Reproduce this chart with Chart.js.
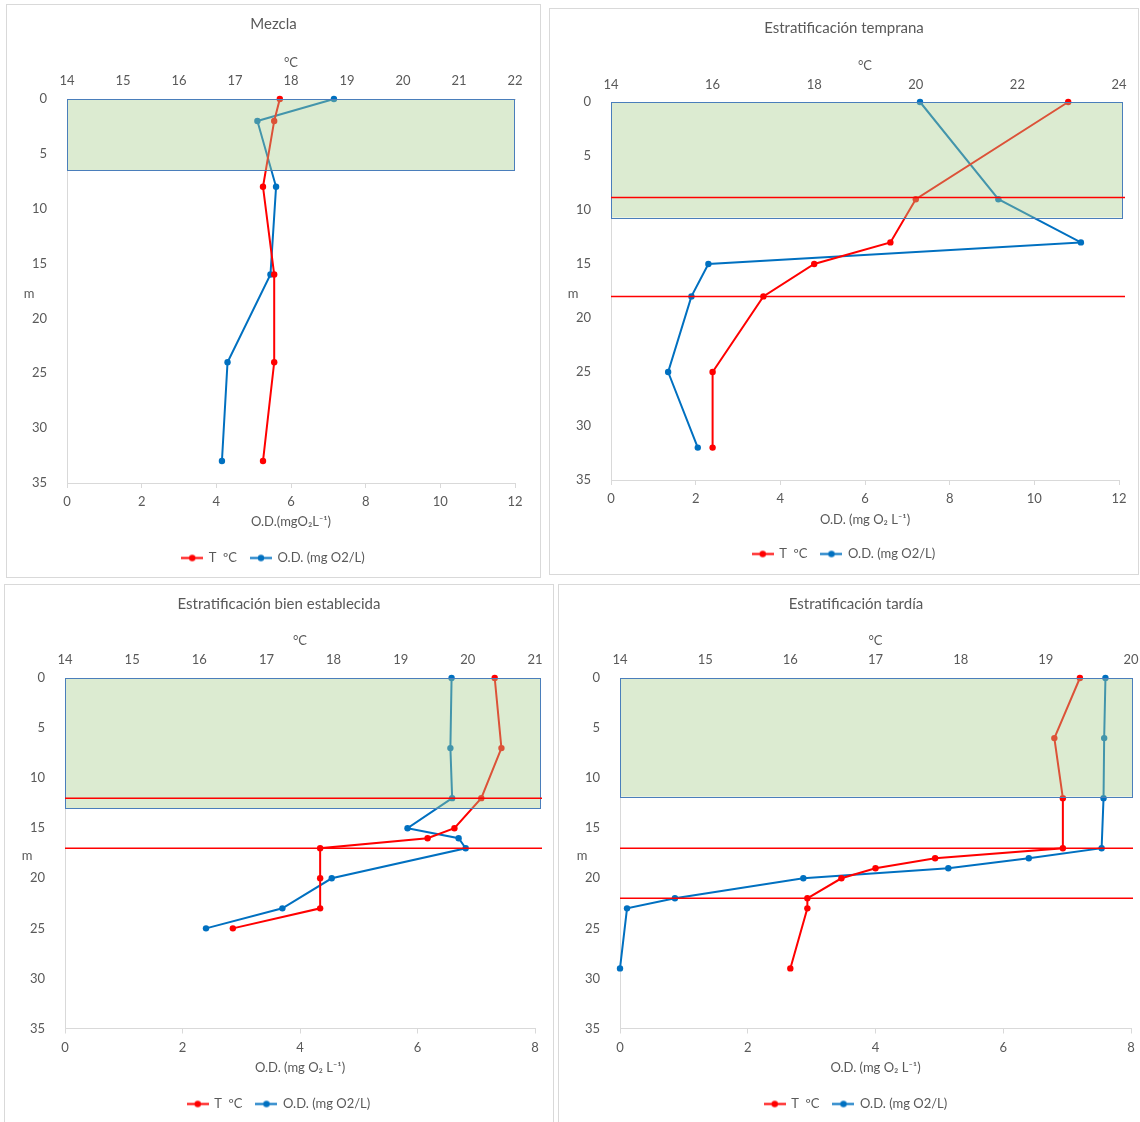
<!DOCTYPE html>
<html>
<head>
<meta charset="utf-8">
<title>Perfiles de temperatura y oxígeno disuelto</title>
<script src="https://cdn.jsdelivr.net/npm/chart.js@4.4.1/dist/chart.umd.min.js"></script>
<style>
  html, body { margin: 0; padding: 0; background: #fff; }
  body { position: relative; width: 1140px; height: 1122px; overflow: hidden; }
  .panel { position: absolute; box-sizing: border-box; border: 1px solid #d9d9d9; background: #fff; }
  .panel canvas { display: block; }
</style>
</head>
<body>
<div class="panel" style="left:6px;top:4px;width:535px;height:574px"><canvas id="c1" width="533" height="572"></canvas></div>
<div class="panel" style="left:549px;top:8px;width:590px;height:567px"><canvas id="c2" width="588" height="565"></canvas></div>
<div class="panel" style="left:4px;top:584px;width:550px;height:545px"><canvas id="c3" width="548" height="543"></canvas></div>
<div class="panel" style="left:558px;top:584px;width:596px;height:545px"><canvas id="c4" width="594" height="543"></canvas></div>

<script>
// ---- Perfil: Mezcla ----
const depthMezcla = [0, 2, 8, 16, 24, 33];
const tempMezcla  = [17.8, 17.7, 17.5, 17.7, 17.7, 17.5];
const odMezcla    = [7.15, 5.1, 5.6, 5.45, 4.3, 4.15];
const mixedMezcla = 6.5;            // fondo de la capa de mezcla (m)
const limitsMezcla = [];            // límites de la termoclina (m)
const tempTicksMezcla = [14, 15, 16, 17, 18, 19, 20, 21, 22];
const odTicksMezcla   = [0, 2, 4, 6, 8, 10, 12];

// ---- Perfil: Estratificación temprana ----
const depthTemprana = [0, 9, 13, 15, 18, 25, 32];
const tempTemprana  = [23.0, 20.0, 19.5, 18.0, 17.0, 16.0, 16.0];
const odTemprana    = [7.3, 9.15, 11.1, 2.3, 1.9, 1.35, 2.05];
const mixedTemprana = 10.7;
const limitsTemprana = [8.85, 18];
const tempTicksTemprana = [14, 16, 18, 20, 22, 24];
const odTicksTemprana   = [0, 2, 4, 6, 8, 10, 12];

// ---- Perfil: Estratificación bien establecida ----
const depthEstablecida = [0, 7, 12, 15, 16, 17, 20, 23, 25];
const tempEstablecida  = [20.4, 20.5, 20.2, 19.8, 19.4, 17.8, 17.8, 17.8, 16.5];
const odEstablecida    = [6.58, 6.56, 6.59, 5.83, 6.7, 6.82, 4.54, 3.7, 2.4];
const mixedEstablecida = 13;
const limitsEstablecida = [12, 17];
const tempTicksEstablecida = [14, 15, 16, 17, 18, 19, 20, 21];
const odTicksEstablecida   = [0, 2, 4, 6, 8];

// ---- Perfil: Estratificación tardía ----
const depthTardia = [0, 6, 12, 17, 18, 19, 20, 22, 23, 29];
const tempTardia  = [19.4, 19.1, 19.2, 19.2, 17.7, 17.0, 16.6, 16.2, 16.2, 16.0];
const odTardia    = [7.6, 7.58, 7.57, 7.54, 6.4, 5.14, 2.87, 0.86, 0.11, 0.0];
const mixedTardia = 11.85;
const limitsTardia = [17, 22];
const tempTicksTardia = [14, 15, 16, 17, 18, 19, 20];
const odTicksTardia   = [0, 2, 4, 6, 8];

const depthTicks = [0, 5, 10, 15, 20, 25, 30, 35];

const seriesNames = ['T  ºC', 'O.D. (mg O2/L)'];

// ---- estilos ----
const TEXT = '#595959';
const AXIS = '#d9d9d9';
const RED = '#ff0000';
const BLUE = '#0070c0';
const FONT = 'Lato, Carlito, Calibri, "Open Sans", sans-serif';
Chart.defaults.font.family = FONT;
Chart.defaults.color = TEXT;

function legendSymbol(color) {
  const c = document.createElement('canvas');
  c.width = 22; c.height = 9;
  const g = c.getContext('2d');
  g.strokeStyle = color; g.lineWidth = 2;
  g.beginPath(); g.moveTo(0, 4.5); g.lineTo(22, 4.5); g.stroke();
  g.fillStyle = color;
  g.beginPath(); g.arc(11, 4.5, 3.2, 0, Math.PI * 2); g.fill();
  return c;
}
const symbols = [legendSymbol(RED), legendSymbol(BLUE)];

// capa de mezcla sombreada, límites de la termoclina y rótulo del eje de profundidad
const layerPlugin = {
  id: 'layers',
  afterDatasetsDraw(chart, args, opts) {
    const {ctx} = chart;
    const xs = chart.scales.x, ys = chart.scales.y;
    const left = xs.getPixelForValue(xs.min);
    const right = xs.getPixelForValue(xs.max);
    const top = ys.getPixelForValue(0);
    const bottom = ys.getPixelForValue(opts.mixed);
    ctx.save();
    ctx.fillStyle = 'rgba(168, 204, 140, 0.40)';
    ctx.fillRect(left, top, right + opts.boxOverhang - left, bottom - top);
    ctx.strokeStyle = '#4a7ebb';
    ctx.lineWidth = 1;
    ctx.strokeRect(Math.round(left) + 0.5, Math.round(top) + 0.5,
                   Math.round(right + opts.boxOverhang - left) - 1, Math.round(bottom - top));
    ctx.strokeStyle = RED;
    ctx.lineWidth = 1.5;
    for (const d of opts.limits) {
      const py = ys.getPixelForValue(d);
      ctx.beginPath();
      ctx.moveTo(left, py);
      ctx.lineTo(right + opts.lineOverhang, py);
      ctx.stroke();
    }
    ctx.restore();
  },
  afterDraw(chart) {
    const {ctx, chartArea} = chart;
    ctx.save();
    ctx.fillStyle = TEXT;
    ctx.font = '13px ' + FONT;
    ctx.textAlign = 'center';
    ctx.textBaseline = 'middle';
    ctx.fillText('m', chartArea.left - 38, (chartArea.top + chartArea.bottom) / 2 + 3);
    ctx.restore();
  }
};

function makeChart(p) {
  const f = p.frame;
  const titleBox = f.titleY + 9;
  const x2Height = f.plotTop - titleBox;
  const legendPad = 14;
  const xHeight = f.legendY - f.plotBottom - legendPad - 6.5;
  const padBottom = f.h - f.plotBottom - xHeight - (legendPad + 23);

  const points = (xs) => p.depth.map((d, i) => ({x: xs[i], y: d}));

  return new Chart(document.getElementById(p.id), {
    type: 'scatter',
    data: {
      datasets: [
        {label: seriesNames[0], data: points(p.temp), xAxisID: 'x2', yAxisID: 'y',
         showLine: true, borderColor: RED, backgroundColor: RED, borderWidth: 2,
         pointRadius: 3.2, pointHoverRadius: 3.2, pointBorderWidth: 0, clip: false},
        {label: seriesNames[1], data: points(p.od), xAxisID: 'x', yAxisID: 'y',
         showLine: true, borderColor: BLUE, backgroundColor: BLUE, borderWidth: 2,
         pointRadius: 3.2, pointHoverRadius: 3.2, pointBorderWidth: 0, clip: false}
      ]
    },
    options: {
      responsive: false,
      animation: false,
      events: [],
      layout: {padding: {left: 0, right: 0, top: 0, bottom: padBottom}},
      plugins: {
        title: {display: true, text: p.title, color: TEXT,
                font: {size: 15, weight: 'normal', lineHeight: 1.2},
                padding: {top: f.titleY - 8, bottom: 0}},
        legend: {
          position: 'bottom',
          labels: {
            usePointStyle: true, pointStyleWidth: 20, padding: legendPad,
            color: TEXT, font: {size: 13},
            generateLabels: (chart) => chart.data.datasets.map((ds, i) => ({
              text: ds.label, pointStyle: symbols[i], fillStyle: ds.borderColor,
              strokeStyle: ds.borderColor, lineWidth: 0, hidden: false,
              datasetIndex: i, fontColor: TEXT
            }))
          }
        },
        tooltip: {enabled: false},
        layers: {mixed: p.mixed, limits: p.limits,
                 boxOverhang: f.boxOverhang, lineOverhang: f.lineOverhang}
      },
      scales: {
        x: {
          type: 'linear', position: 'bottom',
          min: p.odTicks[0], max: p.odTicks[p.odTicks.length - 1],
          ticks: {stepSize: p.odTicks[1] - p.odTicks[0], color: TEXT, font: {size: 13},
                  padding: f.botTicksY - f.plotBottom - 5 - 7.8, maxRotation: 0, autoSkip: false},
          grid: {display: true, drawOnChartArea: false, drawTicks: true, tickLength: 5, color: AXIS},
          border: {display: true, color: AXIS, width: 1},
          title: {display: true, text: p.odTitle, color: TEXT, font: {size: 13, lineHeight: 1.2},
                  padding: {top: 0, bottom: f.plotBottom + xHeight - 7.8 - f.botTitleY}},
          afterFit: (s) => { s.height = xHeight; }
        },
        x2: {
          type: 'linear', position: 'top',
          min: p.tempTicks[0], max: p.tempTicks[p.tempTicks.length - 1],
          ticks: {stepSize: p.tempTicks[1] - p.tempTicks[0], color: TEXT, font: {size: 13},
                  padding: f.plotTop - f.topTicksY - 16.5, maxRotation: 0, autoSkip: false},
          grid: {display: false},
          border: {display: true, color: AXIS, width: 1},
          title: {display: true, text: '°C', color: TEXT, font: {size: 13, lineHeight: 1.2},
                  padding: {top: f.topTitleY - titleBox - 5.8, bottom: 0}},
          afterFit: (s) => { s.height = x2Height; }
        },
        y: {
          type: 'linear', position: 'left', reverse: true,
          min: depthTicks[0], max: depthTicks[depthTicks.length - 1],
          ticks: {stepSize: depthTicks[1] - depthTicks[0], color: TEXT, font: {size: 13}, padding: 12},
          grid: {display: false},
          border: {display: true, color: AXIS, width: 1},
          afterFit: (s) => { s.width = f.plotLeft; }
        },
        yR: {
          type: 'linear', position: 'right', display: true,
          ticks: {display: false}, grid: {display: false}, border: {display: false},
          afterFit: (s) => { s.width = f.w - f.plotRight; }
        }
      }
    },
    plugins: [layerPlugin]
  });
}

const panels = [
  {id: 'c1', title: 'Mezcla', depth: depthMezcla, temp: tempMezcla, od: odMezcla,
   mixed: mixedMezcla, limits: limitsMezcla, tempTicks: tempTicksMezcla, odTicks: odTicksMezcla,
   odTitle: 'O.D.(mgO₂L⁻¹)',
   frame: {w: 533, h: 572, plotLeft: 60, plotRight: 508, plotTop: 93, plotBottom: 478,
           titleY: 18, topTitleY: 55, topTicksY: 74, botTicksY: 497, botTitleY: 517, legendY: 553,
           boxOverhang: 0, lineOverhang: 0}},
  {id: 'c2', title: 'Estratificación temprana', depth: depthTemprana, temp: tempTemprana, od: odTemprana,
   mixed: mixedTemprana, limits: limitsTemprana, tempTicks: tempTicksTemprana, odTicks: odTicksTemprana,
   odTitle: 'O.D. (mg O₂ L⁻¹)',
   frame: {w: 588, h: 565, plotLeft: 61, plotRight: 569, plotTop: 92, plotBottom: 471,
           titleY: 18, topTitleY: 54, topTicksY: 74, botTicksY: 490, botTitleY: 511, legendY: 545,
           boxOverhang: 4, lineOverhang: 6}},
  {id: 'c3', title: 'Estratificación bien establecida', depth: depthEstablecida, temp: tempEstablecida, od: odEstablecida,
   mixed: mixedEstablecida, limits: limitsEstablecida, tempTicks: tempTicksEstablecida, odTicks: odTicksEstablecida,
   odTitle: 'O.D. (mg O₂ L⁻¹)',
   frame: {w: 548, h: 543, plotLeft: 60, plotRight: 530, plotTop: 92, plotBottom: 443.5,
           titleY: 18, topTitleY: 53, topTicksY: 73, botTicksY: 462.5, botTitleY: 483, legendY: 519,
           boxOverhang: 6, lineOverhang: 7}},
  {id: 'c4', title: 'Estratificación tardía', depth: depthTardia, temp: tempTardia, od: odTardia,
   mixed: mixedTardia, limits: limitsTardia, tempTicks: tempTicksTardia, odTicks: odTicksTardia,
   odTitle: 'O.D. (mg O₂ L⁻¹)',
   frame: {w: 594, h: 543, plotLeft: 61, plotRight: 572, plotTop: 92, plotBottom: 443.5,
           titleY: 18, topTitleY: 53, topTicksY: 73, botTicksY: 462.5, botTitleY: 483, legendY: 519,
           boxOverhang: 2, lineOverhang: 2}}
];

panels.forEach(makeChart);
</script>
</body>
</html>
